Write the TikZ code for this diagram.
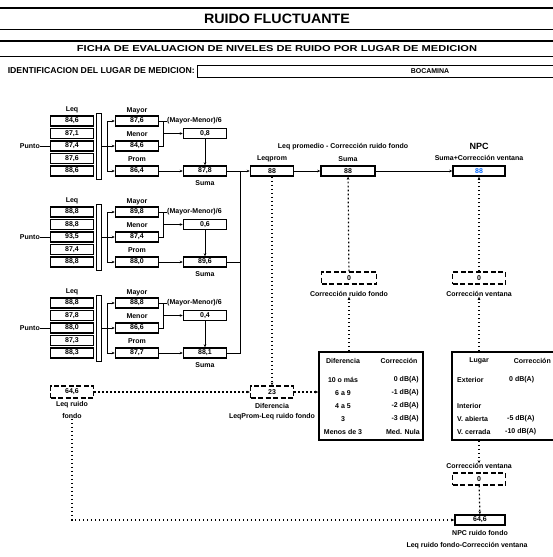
\documentclass[tikz,border=0pt]{standalone}
\usepackage{fontspec}
\usepackage{graphicx}
\setmainfont{Liberation Sans}
\usetikzlibrary{arrows.meta,calc}
\newcommand\setv[2]{\expandafter\def\csname v#1\endcsname{#2}}
\setv{1r1}{84,6}\setv{1r2}{87,1}\setv{1r3}{87,4}\setv{1r4}{87,6}\setv{1r5}{88,6}
\setv{1ma}{87,6}\setv{1me}{84,6}\setv{1dd}{0,8}\setv{1pr}{86,4}\setv{1su}{87,8}
\setv{2r1}{88,8}\setv{2r2}{88,8}\setv{2r3}{93,5}\setv{2r4}{87,4}\setv{2r5}{88,8}
\setv{2ma}{89,8}\setv{2me}{87,4}\setv{2dd}{0,6}\setv{2pr}{88,0}\setv{2su}{89,6}
\setv{3r1}{88,8}\setv{3r2}{87,8}\setv{3r3}{88,0}\setv{3r4}{87,3}\setv{3r5}{88,3}
\setv{3ma}{88,8}\setv{3me}{86,6}\setv{3dd}{0,4}\setv{3pr}{87,7}\setv{3su}{88,1}
\begin{document}
\begin{tikzpicture}[x=1pt,y=-1pt,
  every node/.style={font=\bfseries\fontsize{7}{8}\selectfont, inner sep=0pt},
  valbox/.style={draw, line width=1.5pt, minimum width=43pt, minimum height=10pt},
  dbox/.style={draw, line width=1.4pt, dash pattern=on 5pt off 2.5pt, minimum width=43pt, minimum height=12pt},
  ln/.style={line width=0.9pt},
  arr/.style={ln, -{Stealth[length=3pt,width=2.6pt]}},
  dotl/.style={line width=1.2pt, dash pattern=on 1.6pt off 2.4pt},
  darr/.style={dotl, -{Stealth[length=3pt,width=2.6pt]}},
  tbl/.style={draw, line width=1.7pt},
]
\useasboundingbox (0,0) rectangle (553,557);
\clip (0,0) rectangle (553,557);
% header
\draw[line width=1.6pt] (0,8) -- (553,8);
\node (title) at (277,18.5) {\resizebox{146pt}{9.5pt}{RUIDO FLUCTUANTE}};
\draw[line width=1pt] (0,29) -- (553,29);
\draw[line width=1.8pt] (0,41) -- (553,41);
\node (sub) at (277,49) {\resizebox{400pt}{6pt}{FICHA DE EVALUACION DE NIVELES DE RUIDO POR LUGAR DE MEDICION}};
\draw[line width=0.8pt] (0,56) -- (553,56);
\node[anchor=east] (idt) at (195,71) {\resizebox{187pt}{6pt}{IDENTIFICACION DEL LUGAR DE MEDICION:}};
\node[draw, line width=1pt, minimum width=370pt, minimum height=12pt, anchor=west] (idb) at (197,71) {};
\node (idv) at (430,71) {BOCAMINA};
% groups
\foreach \g/\dy in {1/0,2/91,3/182}{
  \node (g\g leq) at (72,110+\dy) {Leq};
  \foreach \i in {1,...,5}{
    \node[valbox] (g\g r\i) at (72,{121+\dy+12.5*(\i-1)}) {\csname v\g r\i\endcsname};
  }
  \node[draw, line width=1pt, minimum width=5pt, minimum height=66pt] (g\g br) at (98.5,146+\dy) {};
  \node[anchor=east] (g\g pt) at (40,146+\dy) {Punto};
  \draw[ln] (g\g pt) -- (g\g r3);
  \node[valbox] (g\g ma) at (137,121+\dy) {\csname v\g ma\endcsname};
  \node (g\g mal) at (137,111+\dy) {Mayor};
  \node[valbox] (g\g me) at (137,146+\dy) {\csname v\g me\endcsname};
  \node (g\g mel) at (137,134+\dy) {Menor};
  \node[valbox] (g\g pr) at (137,171+\dy) {\csname v\g pr\endcsname};
  \node (g\g prl) at (137,159+\dy) {Prom};
  \node[anchor=west] (g\g ddl) at (167,121+\dy) {(Mayor-Menor)/6};
  \node[valbox] (g\g dd) at (205,133.5+\dy) {\csname v\g dd\endcsname};
  \node[valbox] (g\g su) at (205,171+\dy) {\csname v\g su\endcsname};
  \node (g\g sul) at (205,183+\dy) {Suma};
  \coordinate (g\g j) at (107,146+\dy);
  \draw[ln] (g\g br) -- (g\g j);
  \draw[arr] (g\g j) |- (g\g ma);
  \draw[arr] (g\g j) -- (g\g me);
  \draw[arr] (g\g j) |- (g\g pr);
  \coordinate (g\g k) at (163,133.5+\dy);
  \draw[ln] (g\g ma.east) -- (g\g ddl.west);
  \draw[ln] (g\g ma.east) -| (g\g k);
  \draw[ln] (g\g me.east) -| (g\g k);
  \draw[arr] (g\g k) -- (g\g dd);
  \draw[arr] (g\g dd) -- (g\g su);
  \draw[arr] (g\g pr) -- (g\g su);
}
% top row
\node (lpt) at (343,147) {Leq promedio - Corrección ruido fondo};
\node (lpl) at (272,159) {Leqprom};
\node[valbox] (lp) at (272,171) {88};
\node (sml) at (348,159) {Suma};
\node[valbox, minimum width=54pt] (sm) at (348,171) {88};
\node (npct) at (479,146) {\fontsize{9}{10}\selectfont NPC};
\node (npcl) at (479,158) {Suma+Corrección ventana};
\node[valbox, minimum width=52pt, text=blue!60!cyan] (npc) at (479,171) {88};
\coordinate (bus) at (240,171);
\draw[arr] (g1su) -- (lp);
\draw[ln] (g2su.east) -- (g2su.east -| bus);
\draw[ln] (g3su.east) -| (bus);
\draw[arr] (lp) -- (sm);
\draw[arr] (sm) -- (npc);
% corrections
\node[dbox, minimum width=55pt] (crf) at (349,278) {0};
\node (crfl) at (349,294) {Corrección ruido fondo};
\draw[darr] (crf) -- (sm);
\node[dbox, minimum width=53pt] (cv) at (479,278) {0};
\node (cvl) at (479,294) {Corrección ventana};
\draw[darr] (cv) -- (npc);
% table 1
\node[tbl, minimum width=104pt, minimum height=88pt] (t1) at (371,396) {};
\node (t1h1) at (343,361) {Diferencia};
\node (t1h2) at (399,361) {Corrección};
\node (t1a1) at (343,380) {10 o más};
\node[anchor=east] (t1b1) at (419,380) {0 dB(A)};
\node (t1a2) at (343,393) {6 a 9};
\node[anchor=east] (t1b2) at (419,393) {-1 dB(A)};
\node (t1a3) at (343,406) {4 a 5};
\node[anchor=east] (t1b3) at (419,406) {-2 dB(A)};
\node (t1a4) at (343,419) {3};
\node[anchor=east] (t1b4) at (419,419) {-3 dB(A)};
\node (t1a5) at (343,432) {Menos de 3};
\node[anchor=east] (t1b5) at (420,432) {Med. Nula};
\draw[darr] (crfl.south |- t1.north) -- (crfl.south);
% table 2
\node[tbl, minimum width=120pt, minimum height=88pt] (t2) at (512,396) {};
\node (t2h1) at (479,361) {Lugar};
\node[anchor=east] (t2h2) at (551,361) {Corrección};
\node[anchor=west] (t2a1) at (457,380) {Exterior};
\node[anchor=west] (t2b1) at (509,380) {0 dB(A)};
\node[anchor=west] (t2a2) at (457,406) {Interior};
\node[anchor=west] (t2a3) at (457,419) {V. abierta};
\node[anchor=west] (t2b3) at (507,419) {-5 dB(A)};
\node[anchor=west] (t2a4) at (457,432) {V. cerrada};
\node[anchor=west] (t2b4) at (505,432) {-10 dB(A)};
\draw[darr] (cvl.south |- t2.north) -- (cvl.south);
% bottom right
\node (cv2l) at (479,466) {Corrección ventana};
\node[dbox, minimum width=53pt] (cv2) at (479,479) {0};
\node[valbox, minimum width=50pt] (nrf) at (480,520) {64,6};
\node (nrfl) at (480,533) {NPC ruido fondo};
\node (nrfl2) at (467,546) {Leq ruido fondo-Corrección ventana};
\draw[darr] (cv2l.north |- t2.south) -- (cv2l.north);
\draw[darr] (cv2) -- (nrf);
% left bottom
\node[dbox] (lrf) at (72,392) {64,6};
\node (lrfl) at (72,405) {Leq ruido};
\node (lrfl2) at (72,416) {fondo};
\node[dbox] (dif) at (272,392) {23};
\node (difl) at (272,406) {Diferencia};
\node (difl2) at (272,417) {LeqProm-Leq ruido fondo};
\draw[darr] (lrfl2.south) |- (nrf.west);
\draw[darr] (lrf) -- (dif);
\draw[darr] (lp) -- (dif);
\draw[darr] (dif.east) -- (t1.west |- dif.east);
\end{tikzpicture}
\end{document}
